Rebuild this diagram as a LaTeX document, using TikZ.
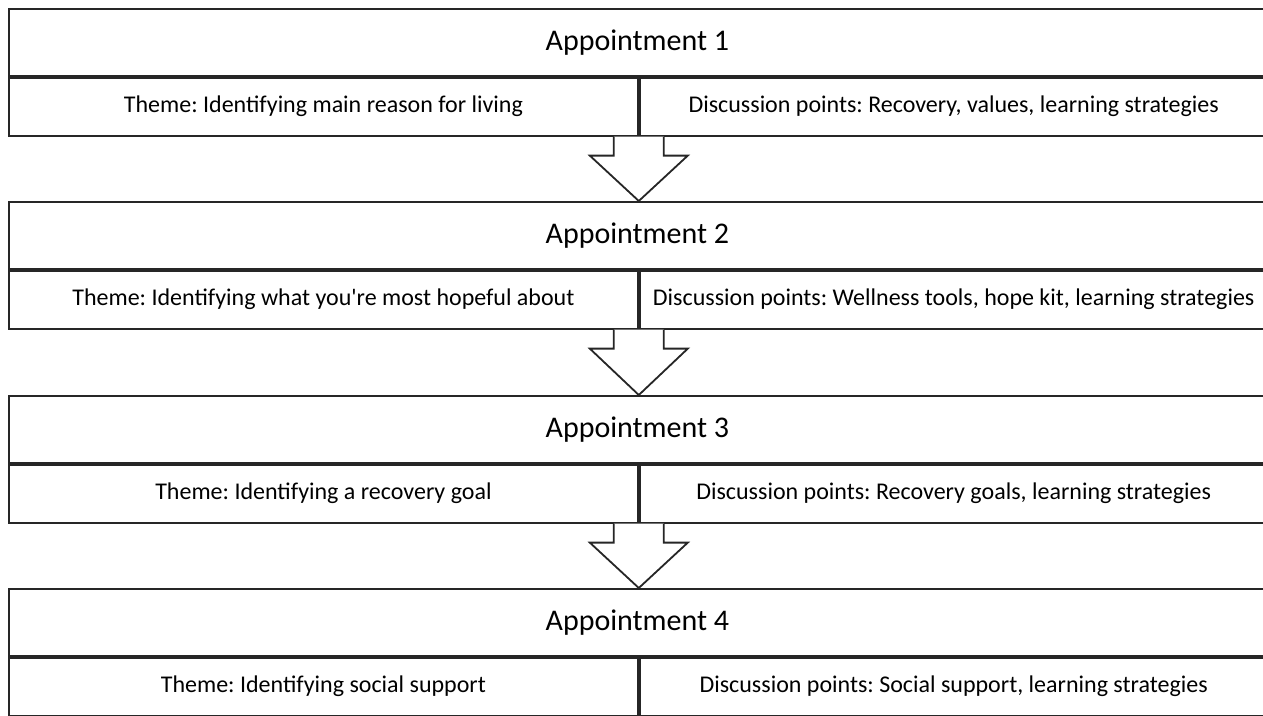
\documentclass[tikz,border=0pt]{standalone}
\usepackage{fontspec}
\setmainfont{Carlito}
\usetikzlibrary{calc}
\frenchspacing
\begin{document}
\begin{tikzpicture}[x=1pt,y=-1pt,
  frame/.style={draw=black!85, line width=1.8pt},
  header/.style={frame, minimum width=1257pt, minimum height=67pt, inner sep=0pt,
    anchor=north west, font=\fontsize{30}{36}\selectfont},
  cell/.style={frame, minimum height=58pt, inner sep=0pt, anchor=north west,
    font=\fontsize{24}{29}\selectfont},
  leftcell/.style={cell, minimum width=629pt},
  rightcell/.style={cell, minimum width=628pt},
  blockarrow/.style={frame, fill=white, line join=miter}
]
\fill[white] (0,0) rectangle (1263,715);
\useasboundingbox (0,0) rectangle (1263,715);

% Appointment boxes: a header row above two cells
\node[header] (h1) at (8,8) {Appointment 1};
\node[leftcell] (l1) at (h1.south west) {Theme: Identifying main reason for living};
\node[rightcell] (r1) at (l1.north east) {Discussion points: Recovery, values, learning strategies};

\node[header] (h2) at (8,201) {Appointment 2};
\node[leftcell] (l2) at (h2.south west) {Theme: Identifying what you\textquotesingle re most hopeful about};
\node[rightcell] (r2) at (l2.north east) {Discussion points: Wellness tools, hope kit, learning strategies};

\node[header] (h3) at (8,395) {Appointment 3};
\node[leftcell] (l3) at (h3.south west) {Theme: Identifying a recovery goal};
\node[rightcell] (r3) at (l3.north east) {Discussion points: Recovery goals, learning strategies};

\node[header] (h4) at (8,588) {Appointment 4};
\node[leftcell] (l4) at (h4.south west) {Theme: Identifying social support};
\node[rightcell] (r4) at (l4.north east) {Discussion points: Social support, learning strategies};

% Hollow block arrows between consecutive appointments
\foreach \a/\b in {1/2, 2/3, 3/4}{
  \draw[blockarrow]
    ($(l\a.south east)+(-25,0)$) -- ++(0,19) -- ++(-24,0)
    -- (l\a.south east |- h\b.north)
    -- ($(l\a.south east)+(49,19)$) -- ++(-24,0) -- ++(0,-19);
}
\end{tikzpicture}
\end{document}
